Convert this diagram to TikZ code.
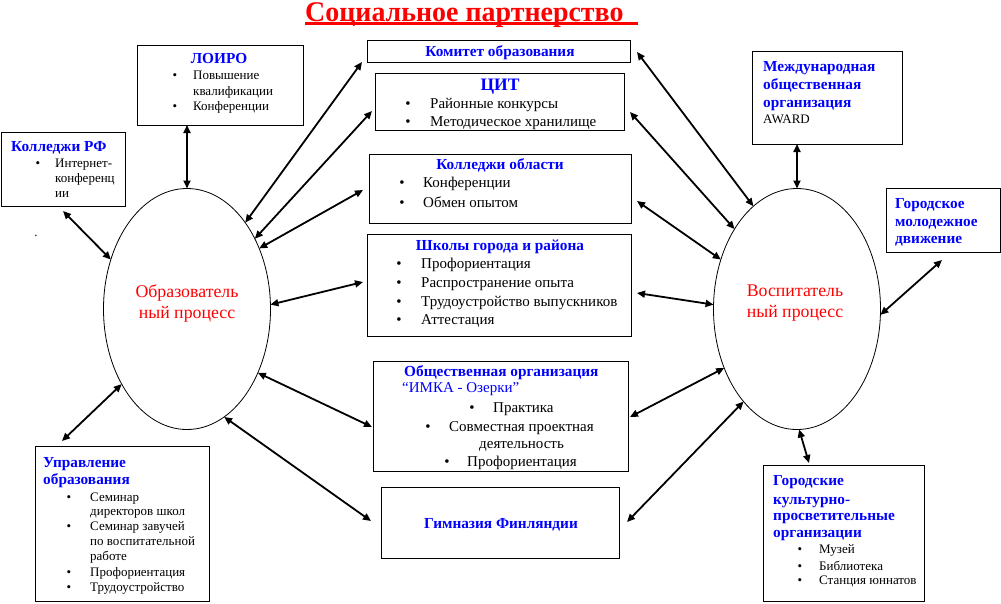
\documentclass[tikz,border=0pt]{standalone}
\usepackage{fontspec}
\setmainfont{Liberation Serif}
\usetikzlibrary{arrows.meta,shapes.geometric}
\definecolor{tblue}{RGB}{0,0,255}
\definecolor{tred}{RGB}{255,0,0}
\newcommand\bitem[6]{\node[#5,anchor=base] (#1b) at (#2,#4) {\textbullet}; \node[#5,anchor=base west] (#1) at (#3,#4) {#6};}
\begin{document}
\begin{tikzpicture}[x=1pt,y=-1pt,
  box/.style={draw, line width=1pt, inner sep=0, outer sep=0, anchor=north west},
  ell/.style={draw, ellipse, line width=0.8pt, inner sep=0, outer sep=0, minimum width=167pt, minimum height=241pt},
  tb/.style={inner sep=0, text=tblue, font=\fontsize{15.3}{18}\selectfont\bfseries},
  tm/.style={inner sep=0, font=\fontsize{15}{17}\selectfont},
  ts/.style={inner sep=0, font=\fontsize{13}{15}\selectfont},
  te/.style={inner sep=0, anchor=base, text=tred, font=\fontsize{17.8}{20}\selectfont},
  arr/.style={line width=1.8pt, {Triangle[length=8pt,width=7pt]}-{Triangle[length=8pt,width=7pt]}}]
\useasboundingbox (0,0) rectangle (1001,603);
\fill[white] (0,0) rectangle (1001,603);

% title
\node[inner sep=0, anchor=base west, text=tred, font=\fontsize{28.5}{32}\selectfont\bfseries] (title) at (305,21.5) {\scalebox{0.98}[1]{Социальное партнерство}};
\draw[tred, line width=2.6pt] ([yshift=-2.2pt]title.base west) -- ++(333,0);

% boxes
\node[box, minimum width=166pt, minimum height=80pt] (loiro) at (137,45) {};
\node[box, minimum width=124pt, minimum height=74pt] (kolrf) at (1,132) {};
\node[box, minimum width=263pt, minimum height=22pt] (komitet) at (367,40) {};
\node[box, minimum width=249pt, minimum height=57pt] (cit) at (375,73) {};
\node[box, minimum width=262pt, minimum height=69pt] (kolobl) at (369,154) {};
\node[box, minimum width=264pt, minimum height=102pt] (shkoly) at (367,234) {};
\node[box, minimum width=255pt, minimum height=110pt] (obsch) at (373,361) {};
\node[box, minimum width=238pt, minimum height=71pt] (gimn) at (381,487) {};
\node[box, minimum width=174pt, minimum height=155pt] (uprav) at (35,446) {};
\node[box, minimum width=150pt, minimum height=93pt] (intl) at (752,51) {};
\node[box, minimum width=114pt, minimum height=64pt] (gorm) at (886,188) {};
\node[box, minimum width=161pt, minimum height=136pt] (gork) at (763,465) {};

% ellipses
\node[ell] (ellL) at (187,309) {};
\node[ell] (ellR) at (797,309) {};
\node[te] (eL1) at (187,297) {Образователь};
\node[te] (eL2) at (187,318) {ный процесс};
\node[te] (eR1) at (795,296) {Воспитатель};
\node[te] (eR2) at (795,317) {ный процесс};

% ЛОИРО
\node[tb, anchor=base] (loiroT) at (219,63) {ЛОИРО};
\bitem{lo1}{175}{193}{79}{ts}{Повышение}
\node[ts, anchor=base west] (lo1b2) at (193,95) {квалификации};
\bitem{lo2}{175}{193}{110}{ts}{Конференции}

% Колледжи РФ
\node[tb, anchor=base west] (kolrfT) at (11,151) {Колледжи РФ};
\bitem{kr1}{38}{55}{167}{ts}{Интернет-}
\node[ts, anchor=base west] (kr1b2) at (55,182) {конференц};
\node[ts, anchor=base west] (kr1b3) at (55,197) {ии};
\node[ts, anchor=base] (dot) at (36,236) {.};

% Комитет образования
\node[tb, anchor=base] (komT) at (500,56) {Комитет образования};

% ЦИТ
\node[tb, anchor=base, font=\fontsize{17.5}{20}\selectfont\bfseries] (citT) at (500,90) {ЦИТ};
\bitem{ci1}{408}{430}{108}{tm}{Районные конкурсы}
\bitem{ci2}{408}{430}{126}{tm}{Методическое хранилище}

% Колледжи области
\node[tb, anchor=base] (kolT) at (500,169) {Колледжи области};
\bitem{ko1}{402}{423}{187}{tm}{Конференции}
\bitem{ko2}{402}{423}{207}{tm}{Обмен опытом}

% Школы
\node[tb, anchor=base] (shT) at (500,250) {Школы города и района};
\bitem{sh1}{399}{421}{268}{tm}{Профориентация}
\bitem{sh2}{399}{421}{287}{tm}{Распространение опыта}
\bitem{sh3}{399}{421}{306}{tm}{Трудоустройство выпускников}
\bitem{sh4}{399}{421}{324}{tm}{Аттестация}

% Общественная организация
\node[tb, anchor=base west] (obT) at (404,376) {Общественная организация};
\node[tm, anchor=base west, text=tblue] (obT2) at (402,392) {“ИМКА - Озерки”};
\bitem{ob1}{472}{493}{412}{tm}{Практика}
\bitem{ob2}{428}{449}{431}{tm}{Совместная проектная}
\node[tm, anchor=base west] (ob2b) at (479,448) {деятельность};
\bitem{ob3}{447}{467}{466}{tm}{Профориентация}

% Гимназия
\node[tb, anchor=base] (gimT) at (501,528) {Гимназия Финляндии};

% Управление образования
\node[tb, anchor=base west] (upT1) at (43,467) {Управление};
\node[tb, anchor=base west] (upT2) at (43,484) {образования};
\bitem{up1}{69}{90}{501}{ts}{Семинар}
\node[ts, anchor=base west] (up1b) at (90,515) {директоров школ};
\bitem{up2}{69}{90}{530}{ts}{Семинар завучей}
\node[ts, anchor=base west] (up2b) at (90,545) {по воспитательной};
\node[ts, anchor=base west] (up2c) at (90,560) {работе};
\bitem{up3}{69}{90}{576}{ts}{Профориентация}
\bitem{up4}{69}{90}{591}{ts}{Трудоустройство}

% Международная
\node[tb, anchor=base west] (inT1) at (763,71) {Международная};
\node[tb, anchor=base west] (inT2) at (763,89) {общественная};
\node[tb, anchor=base west] (inT3) at (763,107) {организация};
\node[ts, anchor=base west] (inT4) at (763,123) {AWARD};

% Городское молодежное движение
\node[tb, anchor=base west] (gmT1) at (895,208) {Городское};
\node[tb, anchor=base west] (gmT2) at (895,226) {молодежное};
\node[tb, anchor=base west] (gmT3) at (895,243) {движение};

% Городские культурно-просветительные организации
\node[tb, anchor=base west] (gkT1) at (773,485) {Городские};
\node[tb, anchor=base west] (gkT2) at (773,504) {культурно-};
\node[tb, anchor=base west] (gkT3) at (773,520) {просветительные};
\node[tb, anchor=base west] (gkT4) at (773,537) {организации};
\bitem{gk1}{800}{819}{553}{ts}{Музей}
\bitem{gk2}{800}{819}{570}{ts}{Библиотека}
\bitem{gk3}{800}{819}{584}{ts}{Станция юннатов}

% arrows left
\draw[arr] (loiro.south -| ellL.north) -- (ellL.north);
\draw[arr] ([shift={(62,5)}]kolrf.south west) -- (ellL.147);
\draw[arr] ([shift={(-5,0)}]komitet.south west) -- (ellL.56);
\draw[arr] ([shift={(-3,38)}]cit.north west) -- (ellL.46);
\draw[arr] ([shift={(-6,36)}]kolobl.north west) -- (ellL.40);
\draw[arr] ([shift={(-4,48)}]shkoly.north west) -- (ellL.3);
\draw[arr] ([shift={(-1,66)}]obsch.north west) -- (ellL.-42);
\draw[arr] ([shift={(-10,34)}]gimn.north west) -- (ellL.-71);
\draw[arr] ([shift={(27,-5)}]uprav.north west) -- (ellL.229);
% arrows right
\draw[arr] ([shift={(7,12)}]komitet.north east) -- (ellR.113);
\draw[arr] ([shift={(6,39)}]cit.north east) -- (ellR.128);
\draw[arr] ([shift={(6,47)}]kolobl.north east) -- (ellR.147);
\draw[arr] ([shift={(6,59)}]shkoly.north east) -- (ellR.177);
\draw[arr] ([shift={(2,56)}]obsch.north east) -- (ellR.219);
\draw[arr] ([shift={(8,35)}]gimn.north east) -- (ellR.240);
\draw[arr] (intl.south -| ellR.north) -- (ellR.north);
\draw[arr] ([shift={(56,8)}]gorm.south west) -- (ellR.356);
\draw[arr] ([shift={(46,-2)}]gork.north west) -- (ellR.271);
\end{tikzpicture}
\end{document}
